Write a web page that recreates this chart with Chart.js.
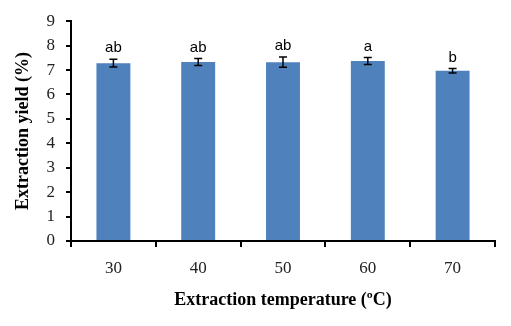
<!DOCTYPE html>
<html>
<head>
<meta charset="utf-8">
<script src="https://cdn.jsdelivr.net/npm/chart.js@4"></script>
<style>
  html, body { margin: 0; padding: 0; background: #fff; }
  #wrap { width: 511px; height: 326px; }
</style>
</head>
<body>
<div id="wrap"><canvas id="yieldChart"></canvas></div>
<script>
// Dữ liệu
const temps = ['30', '40', '50', '60', '70'];
const yieldMean = [7.28, 7.33, 7.32, 7.37, 6.97];
const yieldSd = [0.16, 0.14, 0.21, 0.14, 0.09];
const letters = ['ab', 'ab', 'ab', 'a', 'b'];
const yTicks = [0, 1, 2, 3, 4, 5, 6, 7, 8, 9];

const serif = '"Liberation Serif", "Times New Roman", serif';

// Vẽ thanh sai số và chữ cái thống kê
const errorBarPlugin = {
    id: 'errorBars',
    afterDatasetsDraw(chart) {
        const ctx = chart.ctx;
        const xs = chart.scales.x;
        const ys = chart.scales.y;
        ctx.save();
        ctx.strokeStyle = '#000';
        ctx.lineWidth = 1.5;
        yieldMean.forEach((m, i) => {
            const x = xs.getPixelForValue(i);
            const top = ys.getPixelForValue(m + yieldSd[i]);
            const bot = ys.getPixelForValue(m - yieldSd[i]);
            ctx.beginPath();
            ctx.moveTo(x, top); ctx.lineTo(x, bot);
            ctx.moveTo(x - 4, top); ctx.lineTo(x + 4, top);
            ctx.moveTo(x - 4, bot); ctx.lineTo(x + 4, bot);
            ctx.stroke();
            ctx.fillStyle = '#000';
            ctx.font = '15px "Liberation Sans", Arial, sans-serif';
            ctx.textAlign = 'center';
            ctx.textBaseline = 'alphabetic';
            ctx.fillText(letters[i], x, top - 7);
        });
        ctx.restore();
    }
};

const ctx = document.getElementById('yieldChart').getContext('2d');
const chart = new Chart(ctx, {
    type: 'bar',
    data: {
        labels: temps,
        datasets: [{
            data: yieldMean,
            backgroundColor: '#4F81BD',
            borderWidth: 0,
            categoryPercentage: 1.0,
            barPercentage: 0.4
        }]
    },
    options: {
        responsive: true,
        maintainAspectRatio: false,
        animation: false,
        layout: { padding: { left: 0, right: 16, top: 15, bottom: 0 } },
        plugins: {
            legend: { display: false },
            tooltip: { enabled: false }
        },
        scales: {
            x: {
                afterFit: s => { s.height = 85; },
                grid: { offset: true, drawOnChartArea: false, color: '#000', lineWidth: 2, tickLength: 6 },
                border: { color: '#000', width: 2 },
                ticks: { color: '#222', padding: 11, font: { family: serif, size: 17 } },
                title: {
                    display: true,
                    text: 'Extraction temperature (ºC)',
                    color: '#000',
                    padding: { top: 0, bottom: 15 },
                    font: { family: serif, size: 18, weight: 'bold' }
                }
            },
            y: {
                min: 0,
                max: 9,
                afterFit: s => { s.width = 71; },
                afterBuildTicks: s => { s.ticks = yTicks.map(v => ({ value: v })); },
                grid: { drawOnChartArea: false, color: '#000', lineWidth: 2, tickLength: 5 },
                border: { color: '#000', width: 2 },
                ticks: { color: '#222', padding: 11, font: { family: serif, size: 17 } },
                title: {
                    display: true,
                    text: 'Extraction yield (%)',
                    color: '#000',
                    padding: { top: 13, bottom: 0 },
                    font: { family: serif, size: 18, weight: 'bold' }
                }
            }
        }
    },
    plugins: [errorBarPlugin]
});
</script>
</body>
</html>
